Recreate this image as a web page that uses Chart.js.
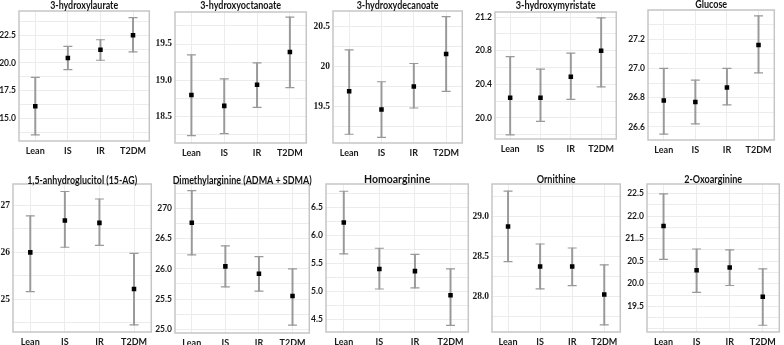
<!DOCTYPE html>
<html lang="en">
<head>
<meta charset="UTF-8" />
<title>Metabolite levels by group</title>
<script src="https://cdn.jsdelivr.net/npm/chart.js"></script>
<style>
  body { margin: 0; background: #fff; }
  #wrap { position: relative; width: 784px; height: 345px; overflow: hidden; background: #fff; }
  .panel { position: absolute; }
</style>
</head>
<body>
<div id="wrap"></div>
<script>
const groups = ['Lean', 'IS', 'IR', 'T2DM'];

// 3-hydroxylaurate
const laurateMean = [16.1, 20.45, 21.2, 22.5];
const laurateLow = [13.5, 19.4, 20.25, 21.0];
const laurateHigh = [18.7, 21.5, 22.1, 24.1];
const laurateTicks = [15.0, 17.5, 20.0, 22.5];
const laurateLabels = ['15.0', '17.5', '20.0', '22.5'];

// 3-hydroxyoctanoate
const octanoateMean = [18.8, 18.65, 18.94, 19.39];
const octanoateLow = [18.24, 18.27, 18.63, 18.9];
const octanoateHigh = [19.35, 19.02, 19.24, 19.87];
const octanoateTicks = [18.5, 19.0, 19.5];
const octanoateLabels = ['18.5', '19.0', '19.5'];

// 3-hydroxydecanoate
const decanoateMean = [19.69, 19.46, 19.75, 20.16];
const decanoateLow = [19.15, 19.11, 19.48, 19.69];
const decanoateHigh = [20.21, 19.81, 20.04, 20.63];
const decanoateTicks = [19.5, 20.0, 20.5];
const decanoateLabels = ['19.5', '20', '20.5'];

// 3-hydroxymyristate
const myristateMean = [20.24, 20.24, 20.49, 20.8];
const myristateLow = [19.8, 19.96, 20.22, 20.37];
const myristateHigh = [20.73, 20.58, 20.77, 21.19];
const myristateTicks = [20.0, 20.4, 20.8, 21.2];
const myristateLabels = ['20.0', '20.4', '20.8', '21.2'];

// Glucose
const glucoseMean = [26.78, 26.77, 26.87, 27.16];
const glucoseLow = [26.55, 26.62, 26.75, 26.97];
const glucoseHigh = [27.0, 26.92, 27.0, 27.36];
const glucoseTicks = [26.6, 26.8, 27.0, 27.2];
const glucoseLabels = ['26.6', '26.8', '27.0', '27.2'];

// 1,5-anhydroglucitol (15-AG)
const anhydroMean = [26.0, 26.68, 26.63, 25.22];
const anhydroLow = [25.16, 26.11, 26.15, 24.45];
const anhydroHigh = [26.78, 27.3, 27.14, 25.98];
const anhydroTicks = [25, 26, 27];
const anhydroLabels = ['25', '26', '27'];

// Dimethylarginine (ADMA + SDMA)
const dmaMean = [26.76, 26.04, 25.92, 25.55];
const dmaLow = [26.23, 25.7, 25.63, 25.07];
const dmaHigh = [27.29, 26.38, 26.2, 26.0];
const dmaTicks = [25.0, 25.5, 26.0, 26.5, 27.0];
const dmaLabels = ['25.0', '25.5', '26.0', '26.5', '270'];

// Homoarginine
const homoargMean = [6.23, 5.4, 5.36, 4.93];
const homoargLow = [5.67, 5.04, 5.06, 4.39];
const homoargHigh = [6.79, 5.77, 5.66, 5.4];
const homoargTicks = [4.5, 5.0, 5.5, 6.0, 6.5];
const homoargLabels = ['4.5', '5.0', '5.5', '6.0', '6.5'];

// Ornithine
const ornithineMean = [28.88, 28.38, 28.38, 28.03];
const ornithineLow = [28.44, 28.1, 28.14, 27.65];
const ornithineHigh = [29.32, 28.66, 28.61, 28.4];
const ornithineTicks = [28.0, 28.5, 29.0];
const ornithineLabels = ['28.0', '28.5', '29.0'];

// 2-Oxoarginine (axis labels printed as in the figure)
const oxoargMean = [21.28, 20.3, 20.36, 19.71];
const oxoargLow = [20.54, 19.81, 19.96, 19.08];
const oxoargHigh = [21.99, 20.77, 20.75, 20.33];
const oxoargTicks = [19.5, 20.0, 20.5, 21.0, 21.5, 22.0];
const oxoargLabels = ['19.5', '20.0', '20.5', '21..5', '22.0', '22.5'];

const SANS = 'Lato, "Open Sans", sans-serif';
const SERIF = '"Liberation Serif", "DejaVu Serif", serif';

// box = chart area in page pixels [x1, y1, x2, y2]; titleW = printed title width
const panels = [
  { title: '3-hydroxylaurate', mean: laurateMean, low: laurateLow, high: laurateHigh, ticks: laurateTicks, labels: laurateLabels, min: 12.95, max: 24.7, serif: false, box: [19, 11, 152, 141], titleY: 6, titleW: 68 },
  { title: '3-hydroxyoctanoate', mean: octanoateMean, low: octanoateLow, high: octanoateHigh, ticks: octanoateTicks, labels: octanoateLabels, min: 18.14, max: 19.94, serif: true, box: [175, 12, 309, 143], titleY: 6, titleW: 81 },
  { title: '3-hydroxydecanoate', mean: decanoateMean, low: decanoateLow, high: decanoateHigh, ticks: decanoateTicks, labels: decanoateLabels, min: 19.04, max: 20.7, serif: true, box: [333, 11, 465, 143], titleY: 6, titleW: 82 },
  { title: '3-hydroxymyristate', mean: myristateMean, low: myristateLow, high: myristateHigh, ticks: myristateTicks, labels: myristateLabels, min: 19.75, max: 21.26, serif: false, box: [495, 12, 619, 139], titleY: 6, titleW: 80 },
  { title: 'Glucose', mean: glucoseMean, low: glucoseLow, high: glucoseHigh, ticks: glucoseTicks, labels: glucoseLabels, min: 26.51, max: 27.4, serif: false, box: [648, 10, 777, 140], titleY: 5, titleW: 32 },
  { title: '1,5-anhydroglucitol (15-AG)', mean: anhydroMean, low: anhydroLow, high: anhydroHigh, ticks: anhydroTicks, labels: anhydroLabels, min: 24.3, max: 27.46, serif: true, box: [13, 184, 154, 332], titleY: 181, titleW: 110 },
  { title: 'Dimethylarginine (ADMA + SDMA)', mean: dmaMean, low: dmaLow, high: dmaHigh, ticks: dmaTicks, labels: dmaLabels, min: 24.94, max: 27.4, serif: false, box: [175, 184, 312, 333], titleY: 181, titleW: 139 },
  { title: 'Homoarginine', mean: homoargMean, low: homoargLow, high: homoargHigh, ticks: homoargTicks, labels: homoargLabels, min: 4.27, max: 6.92, serif: false, box: [326, 184, 471, 332], titleY: 180, titleW: 67 },
  { title: 'Ornithine', mean: ornithineMean, low: ornithineLow, high: ornithineHigh, ticks: ornithineTicks, labels: ornithineLabels, min: 27.56, max: 29.41, serif: true, box: [492, 184, 623, 332], titleY: 180, titleW: 39 },
  { title: '2-Oxoarginine', mean: oxoargMean, low: oxoargLow, high: oxoargHigh, ticks: oxoargTicks, labels: oxoargLabels, min: 18.93, max: 22.21, serif: false, box: [647, 184, 782, 332], titleY: 180, titleW: 58 }
];

const PAD_TOP = 16, Y_W = 26, X_H = 18, PAD_RIGHT = 3;
const WHISKER = '#999999';

// frame + title drawn around the chart area
const framePlugin = {
  id: 'frame',
  beforeDatasetsDraw(chart) {
    const { ctx, chartArea: a } = chart;
    ctx.save();
    ctx.strokeStyle = '#c6c6c6';
    ctx.lineWidth = 1.5;
    ctx.strokeRect(a.left, a.top, a.right - a.left, a.bottom - a.top);
    ctx.restore();
  },
  afterDraw(chart, args, opts) {
    const { ctx, chartArea: a } = chart;
    ctx.save();
    ctx.font = 'bold 10.5px ' + SANS;
    ctx.fillStyle = '#111';
    ctx.textAlign = 'center';
    ctx.textBaseline = 'middle';
    ctx.fillText(opts.text, (a.left + a.right) / 2, opts.y, opts.maxWidth);
    ctx.restore();
  }
};

const wrap = document.getElementById('wrap');

panels.forEach(p => {
  const [x1, y1, x2, y2] = p.box;
  const left = x1 - Y_W, top = y1 - PAD_TOP;
  const w = (x2 - x1) + Y_W + PAD_RIGHT, h = (y2 - y1) + PAD_TOP + X_H;

  const div = document.createElement('div');
  div.className = 'panel';
  div.style.left = left + 'px';
  div.style.top = top + 'px';
  div.style.width = w + 'px';
  div.style.height = h + 'px';
  const cv = document.createElement('canvas');
  cv.width = w; cv.height = h;
  div.appendChild(cv);
  wrap.appendChild(div);

  // major ticks plus a minor line halfway between each pair
  const half = (p.ticks[1] - p.ticks[0]) / 2;
  const gridVals = [], gridLabels = [];
  const iStart = Math.ceil((p.min - p.ticks[0]) / half - 1e-6);
  const iEnd = Math.floor((p.max - p.ticks[0]) / half + 1e-6);
  for (let i = iStart; i <= iEnd; i++) {
    gridVals.push(+(p.ticks[0] + i * half).toFixed(4));
    gridLabels.push(i % 2 === 0 && i >= 0 && i / 2 < p.labels.length ? p.labels[i / 2] : '');
  }

  const tickFont = p.serif
    ? { family: SERIF, size: 9.5, weight: 'bold' }
    : { family: SANS, size: 8.5, weight: 'bold' };

  new Chart(cv, {
    type: 'bar',
    data: {
      labels: groups,
      datasets: [
        { type: 'bar', data: p.low.map((l, i) => [l, p.high[i]]), backgroundColor: WHISKER, barThickness: 1.3, order: 3 },
        { type: 'line', data: p.low, showLine: false, pointStyle: 'line', pointRadius: 4.5, borderColor: WHISKER, pointBorderWidth: 1.2, order: 2 },
        { type: 'line', data: p.high, showLine: false, pointStyle: 'line', pointRadius: 4.5, borderColor: WHISKER, pointBorderWidth: 1.2, order: 2 },
        { type: 'line', data: p.mean, showLine: false, pointStyle: 'rect', pointRadius: 3.2, backgroundColor: '#000', borderColor: '#000', pointBorderWidth: 0, order: 1 }
      ]
    },
    options: {
      responsive: false,
      animation: false,
      devicePixelRatio: 1,
      layout: { padding: { top: PAD_TOP, right: PAD_RIGHT, left: 0, bottom: 0 } },
      plugins: {
        legend: { display: false },
        tooltip: { enabled: false },
        frame: { text: p.title, y: p.titleY - top, maxWidth: p.titleW }
      },
      scales: {
        x: {
          grid: { color: '#ececec', offset: false, drawTicks: false },
          border: { display: false },
          ticks: { font: { family: SANS, size: 9, weight: 'bold' }, color: '#1a1a1a', padding: 5, autoSkip: false, maxRotation: 0, minRotation: 0 },
          afterFit: s => { s.height = X_H; }
        },
        y: {
          min: p.min,
          max: p.max,
          grid: { color: '#ececec', drawTicks: false },
          border: { display: false },
          afterBuildTicks: s => { s.ticks = gridVals.map(v => ({ value: v })); },
          ticks: { autoSkip: false, padding: 3, font: tickFont, color: '#1a1a1a', callback: (v, i) => gridLabels[i] },
          afterFit: s => { s.width = Y_W; }
        }
      }
    },
    plugins: [framePlugin]
  });
});
</script>
</body>
</html>
